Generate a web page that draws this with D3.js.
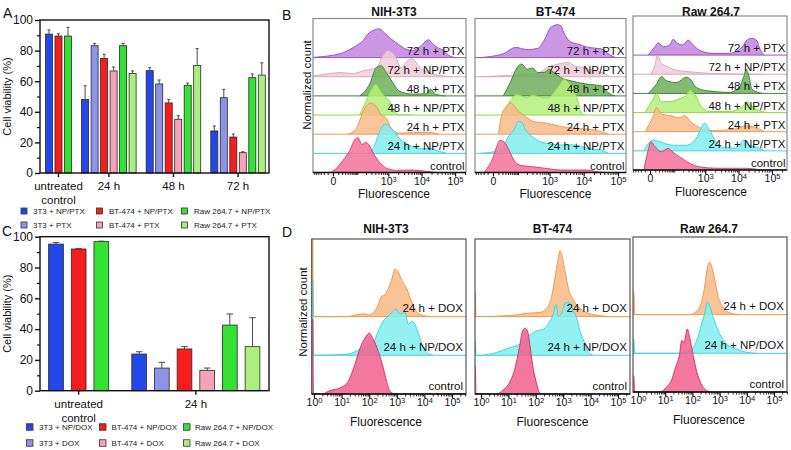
<!DOCTYPE html>
<html><head><meta charset="utf-8">
<script src="https://cdnjs.cloudflare.com/ajax/libs/d3/7.8.5/d3.min.js"></script>
<style>
html,body{margin:0;padding:0;background:#fff;}
svg{display:block;font-family:"Liberation Sans",Arial,Helvetica,sans-serif;}
</style></head><body>
<svg id="fig" width="791" height="450"></svg>
<script>
// ================= DATA: viability bar charts (A, C) =================
const groupsA = [["untreated","control"], ["24 h"], ["48 h"], ["72 h"]];
const groupsC = [["untreated","control"], ["24 h"]];
const seriesA = ["3T3 + NP/PTX","3T3 + PTX","BT-474 + NP/PTX","BT-474 + PTX","Raw 264.7 + NP/PTX","Raw 264.7 + PTX"];
const seriesC = ["3T3 + NP/DOX","3T3 + DOX","BT-474 + NP/DOX","BT-474 + DOX","Raw 264.7 + NP/DOX","Raw 264.7 + DOX"];
const seriesColors = ["#2447ea","#8d93e6","#f51d1d","#f6a2b9","#33e233","#a9f07e"];

// panel A means (cell viability %, null = not measured)
const A_3T3_NP   = [90.8, 48.1, 66.9, 27.5];
const A_3T3_FREE = [null, 83.2, 58.2, 49.2];
const A_BT_NP    = [89.5, 74.9, 45.8, 23.5];
const A_BT_FREE  = [null, 66.7, 35.1, 13.3];
const A_RAW_NP   = [89.5, 83.2, 57.3, 62.3];
const A_RAW_FREE = [null, 65.1, 70.2, 64.0];
// panel A error (SD)
const A_3T3_NP_SD   = [2.7, 8.9, 1.9, 3.2];
const A_3T3_FREE_SD = [null, 1.5, 2.6, 5.5];
const A_BT_NP_SD    = [1.5, 2.7, 2.3, 2.0];
const A_BT_FREE_SD  = [null, 2.6, 2.4, 0.6];
const A_RAW_NP_SD   = [5.7, 1.5, 1.5, 2.4];
const A_RAW_FREE_SD = [null, 1.6, 11.1, 8.0];

// panel C means
const C_3T3_NP   = [95.2, 23.8];
const C_3T3_FREE = [null, 14.7];
const C_BT_NP    = [92.0, 27.1];
const C_BT_FREE  = [null, 13.2];
const C_RAW_NP   = [96.8, 42.6];
const C_RAW_FREE = [null, 28.6];
// panel C error (SD)
const C_3T3_NP_SD   = [1.1, 1.5];
const C_3T3_FREE_SD = [null, 3.7];
const C_BT_NP_SD    = [0.4, 1.5];
const C_BT_FREE_SD  = [null, 1.5];
const C_RAW_NP_SD   = [0.3, 7.2];
const C_RAW_FREE_SD = [null, 18.8];

const viabilityTicks = [0, 20, 40, 60, 80, 100];

// ================= DATA: flow cytometry histograms (B) =================
// [fluorescence, normalized count]
const rowsB = ["control","24 h + NP/PTX","24 h + PTX","48 h + NP/PTX","48 h + PTX","72 h + NP/PTX","72 h + PTX"];
const ticksB = [0, 1e3, 1e4, 1e5];

const B_NIH_control = [[-5,0],[4,.09],[22,.34],[50,.63],[80,.94],[103,1.0],[145,.8],[195,.86],[245,.8],[350,.54],[580,.26],[945,.11],[1890,.06],[5280,.07],[14700,.03],[29000,0]];
const B_NIH_24NP  = [[270,0],[380,.23],[540,.62],[820,.83],[1230,.71],[1530,.63],[2150,.43],[3450,.29],[5280,.2],[10450,.13],[18500,.14],[33000,.06],[57000,0]];
const B_NIH_24PTX = [[42,0],[92,.17],[160,.65],[280,.89],[430,.79],[610,.55],[870,.46],[1230,.17],[2150,.03],[13500,.06],[33000,0]];
const B_NIH_48NP  = [[120,0],[180,.31],[300,.73],[410,.88],[540,.73],[760,.54],[1100,.4],[1530,.11],[2150,.01],[5280,0]];
const B_NIH_48PTX = [[120,0],[260,.33],[430,.81],[610,.86],[870,.67],[1370,.38],[2150,.14],[5400,.05],[13500,.06],[18500,.19],[26500,.05],[52000,0]];
const B_NIH_72NP  = [[-60,.03],[-5,.09],[14,.12],[67,.09],[160,.17],[430,.26],[680,.6],[960,.74],[1530,.63],[2450,.26],[3800,.46],[5400,.51],[8400,.29],[16500,.11],[40800,.03],[80500,0]];
const B_NIH_72PTX = [[-60,.01],[14,.11],[70,.29],[160,.49],[260,.72],[540,.82],[760,.71],[1100,.57],[1720,.43],[3450,.24],[5400,.2],[8400,.29],[16500,.51],[21300,.4],[29500,.29],[47000,.2],[66000,.06],[105000,0]];

const B_BT_control = [[-20,0],[0.5,.45],[6.5,.74],[14,.92],[30,.83],[48,.59],[70,.35],[120,.21],[335,.16],[870,.11],[2150,.07],[13500,.07],[21300,.03],[52000,0]];
const B_BT_24NP  = [[-32,0],[14,.09],[42,.48],[70,.67],[106,.92],[135,.89],[180,.67],[260,.52],[540,.33],[2150,.24],[5400,.24],[13500,.14],[33000,.09],[52000,0]];
const B_BT_24PTX = [[10,0],[18,.55],[30,.76],[50,.89],[70,.83],[106,.65],[180,.51],[335,.36],[870,.31],[2150,.22],[5400,.17],[21300,.12],[42000,.03],[52000,0]];
const B_BT_48NP  = [[23,0],[50,.4],[92,.59],[205,.49],[300,.57],[430,.54],[870,.49],[1720,.78],[2720,1.02],[3450,.94],[5400,.69],[6800,.4],[8400,.07],[10800,0]];
const B_BT_48PTX = [[23,0],[50,.38],[92,.81],[135,.91],[205,.76],[300,.8],[430,.67],[680,.67],[960,.76],[1370,.66],[2150,.52],[4300,.43],[13500,.33],[33000,.29],[52000,.09],[83000,0]];
const B_BT_72NP  = [[-32,0],[50,.04],[430,.09],[870,.27],[1720,.36],[3450,.41],[5400,.31],[8400,.27],[21300,.17],[42000,.08],[57000,0]];
const B_BT_72PTX = [[-32,0],[23,.11],[82,.29],[205,.23],[430,.26],[680,.49],[1100,.87],[1720,.94],[2150,.91],[2720,.68],[4300,.44],[6800,.39],[13500,.29],[33000,.25],[52000,.11],[83000,0]];

const B_RAW_control = [[-12,0],[-3,.57],[1.1,.81],[9.3,.67],[27,.52],[58,.62],[78,.54],[120,.43],[200,.31],[327,.19],[667,.09],[2100,.05],[13100,.05],[52000,0]];
const B_RAW_24NP  = [[-12,0],[6,.31],[22,.26],[89,.16],[255,.16],[530,.36],[750,.65],[945,.79],[1340,.6],[2100,.26],[4200,.08],[8200,.08],[14700,.31],[20600,.17],[40800,.08],[60000,0]];
const B_RAW_24PTX = [[-9,0],[6,.46],[13,.69],[27,.51],[67,.46],[154,.4],[226,.46],[370,.27],[667,.12],[1670,.03],[8200,.08],[16200,.17],[32000,.12],[60000,0]];
const B_RAW_48NP  = [[-9,0],[6,.4],[13,.54],[27,.31],[67,.31],[154,.4],[255,.49],[327,.64],[467,.53],[750,.17],[1340,.03],[5280,.03],[13100,.17],[18000,.31],[25000,.17],[52000,.03],[80500,0]];
const B_RAW_48PTX = [[-3,0],[13,.27],[27,.48],[49,.36],[120,.31],[255,.46],[327,.42],[530,.17],[1070,.08],[5280,.03],[10450,.17],[14700,.51],[16900,.69],[20600,.49],[25000,.12],[52000,0]];
const B_RAW_72NP  = [[0,0],[9.3,.26],[15,.54],[27,.31],[58,.21],[120,.11],[327,.07],[1670,.02],[52000,0]];
const B_RAW_72PTX = [[-3,0],[9.3,.24],[17,.35],[35,.24],[67,.29],[89,.45],[130,.33],[200,.29],[290,.43],[420,.29],[667,.14],[1670,.05],[5280,.05],[13100,.24],[18000,.43],[25000,.48],[36000,.4],[43000,.19],[52000,.05],[60000,0]];

// ================= DATA: flow cytometry histograms (D) =================
const rowsD = ["control","24 h + NP/DOX","24 h + DOX"];
const ticksD = [1, 10, 100, 1e3, 1e4, 1e5];

const D_NIH_control = [[0.5,1.06],[0.9,1.06],[0.95,0],[1.9,0],[3.8,.05],[8.7,.086],[17.4,.18],[30,.42],[47,.66],[71,.8],[100,.87],[141,.78],[214,.61],[324,.37],[427,.18],[562,.04],[850,0]];
const D_NIH_NP  = [[0.5,1.08],[0.9,1.08],[0.95,0],[15,.014],[35,.06],[62,.11],[141,.18],[214,.35],[324,.49],[490,.56],[741,.63],[933,.66],[1318,.59],[1995,.61],[2630,.44],[3470,.49],[4570,.44],[6170,.3],[9120,.11],[12000,.04],[21000,0]];
const D_NIH_DOX = [[0.5,1.2],[0.9,1.2],[0.95,0],[15,0],[62,.039],[93,.024],[186,.12],[282,.29],[372,.31],[490,.4],[646,.52],[851,.68],[1120,.64],[1510,.52],[2290,.4],[3470,.21],[5250,.07],[9120,.014],[15800,0]];

const D_BT_control = [[0.5,.4],[0.62,.4],[0.66,0],[3.7,0],[6.6,.06],[11.6,.18],[17.5,.37],[25,.66],[33,.9],[41,.94],[50,.9],[61,.7],[76,.42],[102,.18],[142,.014],[190,0]];
const D_BT_NP  = [[0.5,.2],[0.62,.2],[0.66,0],[0.92,0],[3.7,.04],[11.5,.11],[26,.16],[46,.25],[107,.35],[190,.37],[331,.49],[437,.59],[550,.73],[676,.56],[891,.61],[1175,.75],[1780,.75],[2340,.63],[3090,.54],[4070,.35],[6310,.16],[8320,.04],[12600,0]];
const D_BT_DOX = [[0.5,.35],[0.62,.35],[0.66,0],[11.5,.014],[47,.047],[142,.06],[250,.12],[380,.29],[500,.55],[630,.79],[760,.94],[955,.83],[1175,.64],[1550,.4],[2340,.24],[4070,.12],[8320,.047],[21900,.014],[51000,0]];

const D_RAW_control = [[0.5,.23],[0.7,.23],[0.75,0],[6.5,0],[11.2,.07],[17.2,.17],[23,.33],[33,.52],[41,.74],[49,.7],[65,.9],[81,.76],[107,.52],[144,.29],[220,.1],[390,.01],[590,0]];
const D_RAW_NP  = [[0.5,.2],[0.7,.2],[0.75,0],[35,0],[81,.04],[144,.18],[220,.42],[290,.59],[355,.73],[447,.66],[590,.51],[890,.32],[1550,.16],[4270,.06],[9800,.014],[23000,0]];
const D_RAW_DOX = [[0.5,.33],[0.7,.33],[0.75,0],[81,0],[144,.05],[220,.19],[290,.43],[355,.67],[420,.75],[510,.69],[680,.48],[890,.26],[1380,.1],[2400,.024],[5600,0]];

// ================= STYLE =================
const fillB   = ["#f4729b","#80f0ee","#f7ba8a","#b4f07a","#6fae5a","#efcdd8","#c384e0"];
const strokeB = ["#e63d72","#3fd6e6","#f29a55","#8ede48","#3f8a35","#dcaabb","#9a55bd"];
const fillD   = ["#f0608e","#80f0ee","#f7b883"];
const strokeD = ["#e6306a","#3fd6e6","#f29a50"];

const svg = d3.select("#fig");
const defs = svg.append("defs");

function addSup(textSel, base, exp) {
  textSel.text(null);
  textSel.append("tspan").text(base);
  textSel.append("tspan").attr("dy", "-0.45em").attr("font-size", "0.72em").text(exp);
}

// ================= BAR PANELS =================
function barPanel(o) {
  const g = svg.append("g");
  const y = d3.scaleLinear().domain([0, 100]).range([o.bottom, o.top]);
  let s = 0; const bars = []; const centers = [];
  o.groups.forEach((grp, gi) => {
    const first = s;
    o.values.forEach((arr, si) => {
      if (arr[gi] != null) { bars.push({ gi, si, slot: s, v: arr[gi], sd: o.sds[si][gi] }); s += 1; }
    });
    centers.push((first + s - 1) / 2);
    s += o.gap;
  });
  const last = s - o.gap - 1;
  const x = d3.scaleLinear().domain([0, last]).range(o.xRange);
  const bw = (x(1) - x(0)) * o.barFrac;

  g.selectAll("rect.bar").data(bars).join("rect")
    .attr("x", d => x(d.slot) - bw / 2).attr("width", bw)
    .attr("y", d => y(d.v)).attr("height", d => y(0) - y(d.v))
    .attr("fill", d => seriesColors[d.si]).attr("stroke", "#2a2a2a").attr("stroke-width", 0.8);
  const eb = g.selectAll("g.err").data(bars).join("g").attr("stroke", "#4a4a4a").attr("stroke-width", 1);
  eb.append("line").attr("x1", d => x(d.slot)).attr("x2", d => x(d.slot))
    .attr("y1", d => y(d.v)).attr("y2", d => y(d.v + d.sd));
  eb.append("line").attr("x1", d => x(d.slot) - bw * 0.22).attr("x2", d => x(d.slot) + bw * 0.22)
    .attr("y1", d => y(d.v + d.sd)).attr("y2", d => y(d.v + d.sd));

  g.append("rect").attr("x", o.left).attr("y", o.top).attr("width", o.right - o.left).attr("height", o.bottom - o.top)
    .attr("fill", "none").attr("stroke", "#111").attr("stroke-width", 1.4);

  const ya = g.append("g").attr("transform", `translate(${o.left},0)`)
    .call(d3.axisLeft(y).tickValues(viabilityTicks).tickSize(5).tickPadding(2).tickSizeOuter(0));
  ya.select(".domain").remove();
  ya.selectAll("line").attr("stroke", "#111").attr("stroke-width", 1.4);
  ya.selectAll("text").attr("font-size", 12).attr("fill", "#111").attr("font-family", null);
  const ym = g.append("g").attr("transform", `translate(${o.left},0)`)
    .call(d3.axisLeft(y).tickValues(d3.range(10, 100, 20)).tickSize(3).tickFormat("").tickSizeOuter(0));
  ym.select(".domain").remove();
  ym.selectAll("line").attr("stroke", "#111").attr("stroke-width", 1.2);

  o.groups.forEach((lab, gi) => {
    const cx = x(centers[gi]);
    g.append("line").attr("x1", cx).attr("x2", cx).attr("y1", o.bottom).attr("y2", o.bottom + 4)
      .attr("stroke", "#111").attr("stroke-width", 1.4);
    lab.forEach((line, li) => {
      g.append("text").attr("x", cx).attr("y", o.labelY + li * 13.5).attr("text-anchor", "middle")
        .attr("font-size", 11.5).attr("fill", "#111").text(line);
    });
  });

  g.append("text").attr("transform", `translate(${o.ylabX},${(o.top + o.bottom) / 2}) rotate(-90)`)
    .attr("text-anchor", "middle").attr("font-size", 11).attr("fill", "#111").text("Cell viability (%)");

  o.series.forEach((name, i) => {
    const col = Math.floor(i / 2), row = i % 2;
    const lx = o.legendSq[col], ly = o.legendY[row];
    g.append("rect").attr("x", lx).attr("y", ly - o.sq / 2).attr("width", o.sq).attr("height", o.sq)
      .attr("fill", seriesColors[i]).attr("stroke", "#333").attr("stroke-width", 0.8);
    g.append("text").attr("x", o.legendTx[col]).attr("y", ly).attr("dy", "0.35em")
      .attr("font-size", 8).attr("fill", "#222").text(name);
  });
}

barPanel({
  groups: groupsA, series: seriesA,
  values: [A_3T3_NP, A_3T3_FREE, A_BT_NP, A_BT_FREE, A_RAW_NP, A_RAW_FREE],
  sds: [A_3T3_NP_SD, A_3T3_FREE_SD, A_BT_NP_SD, A_BT_FREE_SD, A_RAW_NP_SD, A_RAW_FREE_SD],
  left: 40, right: 269, top: 20, bottom: 173, xRange: [49, 261.8], gap: 0.8, barFrac: 0.74,
  labelY: 190, ylabX: 11,
  legendSq: [21, 96.5, 181.5], legendTx: [33, 109, 194], legendY: [211, 225], sq: 6
});
barPanel({
  groups: groupsC, series: seriesC,
  values: [C_3T3_NP, C_3T3_FREE, C_BT_NP, C_BT_FREE, C_RAW_NP, C_RAW_FREE],
  sds: [C_3T3_NP_SD, C_3T3_FREE_SD, C_BT_NP_SD, C_BT_FREE_SD, C_RAW_NP_SD, C_RAW_FREE_SD],
  left: 40, right: 269, top: 236.7, bottom: 390.7, xRange: [56, 252.5], gap: 0.67, barFrac: 0.65,
  labelY: 408, ylabX: 11,
  legendSq: [26.5, 99.5, 183.5], legendTx: [39, 111.5, 195], legendY: [427, 443], sq: 6.5
});

// ================= FLOW PANELS =================
function flowPanel(o, idx) {
  const x = o.x;
  const clipId = "clip" + idx;
  defs.append("clipPath").attr("id", clipId).append("rect")
    .attr("x", o.frame[0]).attr("y", o.top + o.dy).attr("width", o.frame[1] - o.frame[0]).attr("height", o.bottom - o.top);
  const plot = svg.append("g").attr("clip-path", `url(#${clipId})`).append("g").attr("transform", `translate(0,${o.dy})`);
  const g = svg.append("g").attr("transform", `translate(0,${o.dy})`);
  const baseY = d3.scaleLinear().domain([0, 1]).range([o.bottom, o.bottom - o.rowStep]);

  for (let r = o.rows.length - 1; r >= 0; r--) {
    const b = baseY(r);
    const hy = d3.scaleLinear().domain([0, 1]).range([b, b - o.rowH]);
    const area = d3.area().curve(d3.curveMonotoneX).x(d => x(d[0])).y0(b).y1(d => hy(d[1]));
    const line = d3.line().curve(d3.curveMonotoneX).x(d => x(d[0])).y(d => hy(d[1]));
    plot.append("path").datum(o.rows[r]).attr("d", area).attr("fill", o.fill[r]).attr("fill-opacity", 0.85);
    plot.append("path").datum(o.rows[r]).attr("d", line).attr("fill", "none").attr("stroke", o.stroke[r]).attr("stroke-width", 1);
    plot.append("line").attr("x1", o.frame[0]).attr("x2", o.frame[1]).attr("y1", b).attr("y2", b)
      .attr("stroke", o.stroke[r]).attr("stroke-width", 1);
  }
  o.labels.forEach((lab, r) => {
    g.append("text").attr("x", o.frame[1] - o.labPad).attr("y", baseY(r) - o.labLift)
      .attr("text-anchor", "end").attr("font-size", 11.5).attr("fill", "#111").text(lab);
  });
  g.append("rect").attr("x", o.frame[0]).attr("y", o.top).attr("width", o.frame[1] - o.frame[0]).attr("height", o.bottom - o.top)
    .attr("fill", "none").attr("stroke", o.frameColor).attr("stroke-width", 1.2);
  g.append("line").attr("x1", o.frame[0]).attr("x2", o.frame[1]).attr("y1", o.bottom).attr("y2", o.bottom)
    .attr("stroke", "#111").attr("stroke-width", 1.3);
  const inFrame = v => x(v) >= o.frame[0] && x(v) <= o.frame[1];
  const ax = g.append("g").attr("transform", `translate(0,${o.bottom})`)
    .call(d3.axisBottom(x).tickValues(o.ticks).tickSize(4).tickPadding(1).tickSizeOuter(0));
  ax.select(".domain").remove();
  ax.selectAll("line").attr("stroke", "#111").attr("stroke-width", 1.2);
  ax.selectAll("text").attr("font-size", 10.5).attr("fill", "#111").attr("font-family", null)
    .each(function (d) {
      const t = d3.select(this);
      if (d === 0) t.text("0"); else addSup(t, "10", String(Math.round(Math.log10(d))));
    });
  const am = g.append("g").attr("transform", `translate(0,${o.bottom})`)
    .call(d3.axisBottom(x).tickValues(o.minor.filter(inFrame)).tickSize(2.5).tickFormat("").tickSizeOuter(0));
  am.select(".domain").remove();
  am.selectAll("line").attr("stroke", "#111").attr("stroke-width", 0.9);

  const mid = (x(o.ticks[0]) + x(o.ticks[o.ticks.length - 1])) / 2 + o.midShift;
  g.append("text").attr("x", mid).attr("y", o.xlabY).attr("text-anchor", "middle").attr("font-size", 12).attr("fill", "#111").text("Fluorescence");
  g.append("text").attr("x", mid).attr("y", o.titleY).attr("text-anchor", "middle").attr("font-size", 12).attr("font-weight", "bold").attr("fill", "#111").text(o.title);
}

const minorB = [].concat(
  d3.range(-90, 0, 10), d3.range(10, 100, 10), d3.range(100, 1000, 100),
  d3.range(2000, 10000, 1000), d3.range(20000, 100000, 10000), [200000]);
const minorD = [];
for (let e = 0; e < 6; e++) for (let m = 2; m <= 9; m++) minorD.push(m * Math.pow(10, e));

const cellTitles = ["NIH-3T3", "BT-474", "Raw 264.7"];
const panelsB = [
  { frame: [313, 466], axisR: [333, 455], dy: 0, rows: [B_NIH_control, B_NIH_24NP, B_NIH_24PTX, B_NIH_48NP, B_NIH_48PTX, B_NIH_72NP, B_NIH_72PTX] },
  { frame: [475, 626], axisR: [493, 618], dy: 0, rows: [B_BT_control, B_BT_24NP, B_BT_24PTX, B_BT_48NP, B_BT_48PTX, B_BT_72NP, B_BT_72PTX] },
  { frame: [633, 787], axisR: [650, 772], dy: -2.5, rows: [B_RAW_control, B_RAW_24NP, B_RAW_24PTX, B_RAW_48NP, B_RAW_48PTX, B_RAW_72NP, B_RAW_72PTX] }
];
panelsB.forEach((p, i) => {
  flowPanel({
    title: cellTitles[i], frame: p.frame, dy: p.dy, top: 18.5, bottom: 172.5,
    x: d3.scaleSymlog().constant(23).domain([0, 1e5]).range(p.axisR),
    rows: p.rows, labels: rowsB, fill: fillB, stroke: strokeB,
    rowStep: 19.15, rowH: 35, labPad: 1.5, labLift: 3,
    frameColor: "#8a8a8a", ticks: ticksB, minor: minorB, midShift: 0,
    xlabY: 198, titleY: 16 - p.dy
  }, "B" + i);
});

const panelsD = [
  { frame: [311.7, 466], axisR: [314, 452], dy: 0, rows: [D_NIH_control, D_NIH_NP, D_NIH_DOX] },
  { frame: [475, 630], axisR: [481, 618], dy: 0, rows: [D_BT_control, D_BT_NP, D_BT_DOX] },
  { frame: [633, 787], axisR: [638, 774], dy: -2, rows: [D_RAW_control, D_RAW_NP, D_RAW_DOX] }
];
panelsD.forEach((p, i) => {
  flowPanel({
    title: cellTitles[i], frame: p.frame, dy: p.dy, top: 239, bottom: 394,
    x: d3.scaleLog().domain([1, 1e5]).range(p.axisR),
    rows: p.rows, labels: rowsD, fill: fillD, stroke: strokeD,
    rowStep: 38.7, rowH: 70, labPad: 3, labLift: 4.5,
    frameColor: "#555", ticks: ticksD, minor: minorD, midShift: 3,
    xlabY: 426, titleY: 233 - p.dy
  }, "D" + i);
});

svg.append("text").attr("transform", "translate(307,85) rotate(-90)").attr("text-anchor", "middle")
  .attr("dy", "0.35em").attr("font-size", 11.5).attr("fill", "#111").text("Normalized count");
svg.append("text").attr("transform", "translate(303,312) rotate(-90)").attr("text-anchor", "middle")
  .attr("dy", "0.35em").attr("font-size", 11.5).attr("fill", "#111").text("Normalized count");

[["A", 3, 18], ["B", 282, 20], ["C", 2, 236], ["D", 282, 237]].forEach(([t, lx, ly]) => {
  svg.append("text").attr("x", lx).attr("y", ly).attr("font-size", 14).attr("fill", "#111").text(t);
});
</script>
</body></html>
